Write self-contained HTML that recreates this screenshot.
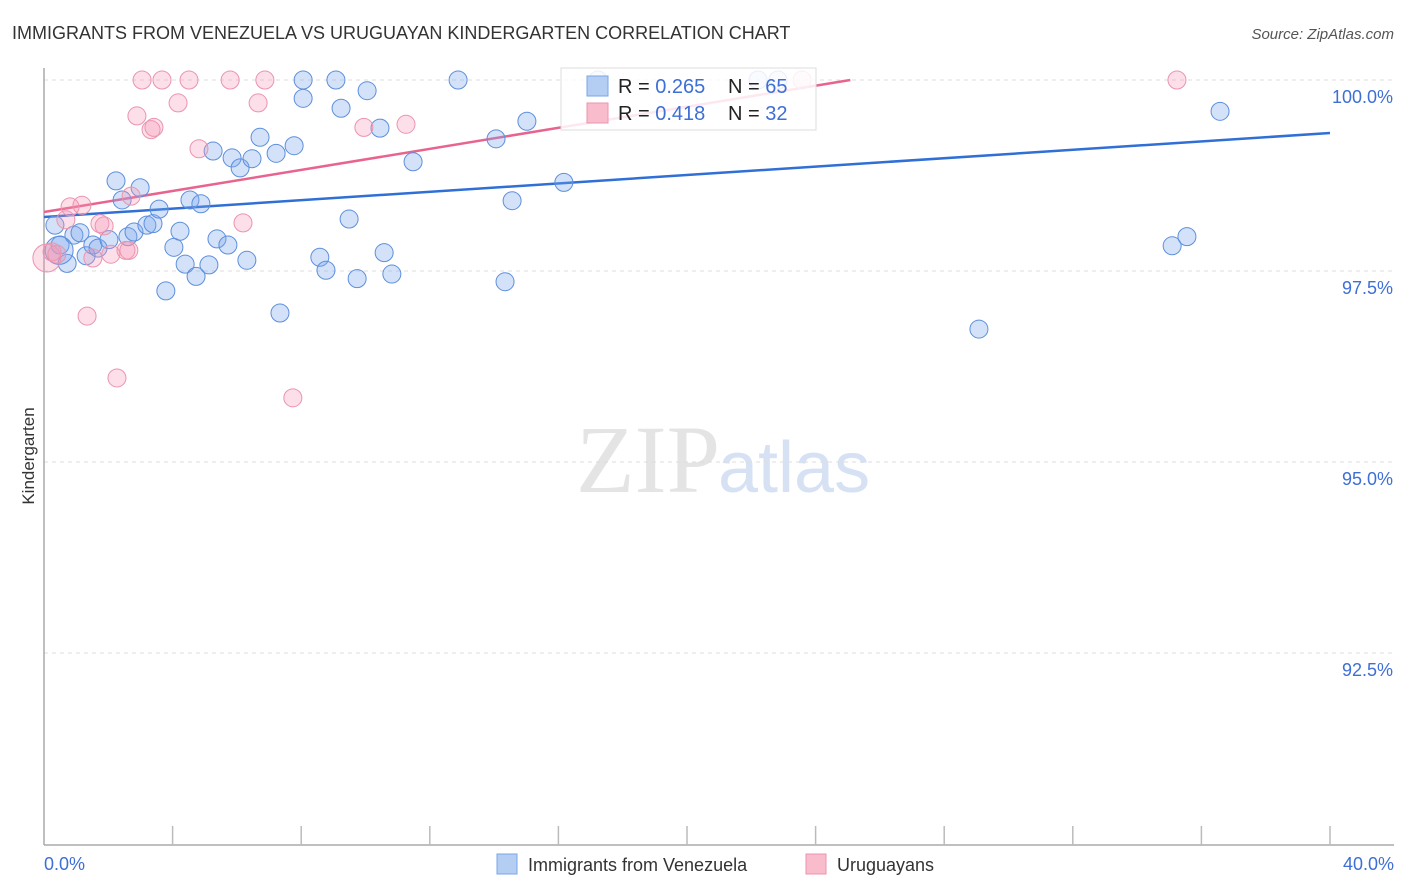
<!DOCTYPE html>
<html><head><meta charset="utf-8"><style>
body{margin:0;background:#fff;font-family:"Liberation Sans",sans-serif;}
#wrap{position:relative;width:1406px;height:892px;overflow:hidden;}
</style></head><body>
<div id="wrap">
<svg id="svg" width="1406" height="892" xmlns="http://www.w3.org/2000/svg">
<text x="12" y="39" font-size="18" fill="#333">IMMIGRANTS FROM VENEZUELA VS URUGUAYAN KINDERGARTEN CORRELATION CHART</text>
<text x="1394" y="39" font-size="15" fill="#555" font-style="italic" text-anchor="end">Source: ZipAtlas.com</text>
<text x="720" y="492" font-size="96" fill="#e4e4e4" text-anchor="end" font-family="Liberation Serif, serif">ZIP</text>
<text x="718" y="492" font-size="72" fill="#d6e2f3">atlas</text>
<text x="34" y="456" font-size="17" fill="#333" text-anchor="middle" transform="rotate(-90 34 456)">Kindergarten</text>
<g id="grid"></g><g id="axes"></g><g id="lines"></g><g id="pts"></g>
<g>
<rect x="561" y="68" width="255" height="62" fill="#fff" fill-opacity="0.85" stroke="#ddd"/>
<rect x="587" y="76" width="21" height="20" fill="#b3cdf3" stroke="#7aa6e6"/>
<text x="618" y="93" font-size="20" fill="#222">R = <tspan fill="#3d6fd6">0.265</tspan></text>
<text x="728" y="93" font-size="20" fill="#222">N = <tspan fill="#3d6fd6">65</tspan></text>
<rect x="587" y="103" width="21" height="20" fill="#f8bccd" stroke="#ee93ae"/>
<text x="618" y="120" font-size="20" fill="#222">R = <tspan fill="#3d6fd6"> 0.418</tspan></text>
<text x="728" y="120" font-size="20" fill="#222">N = <tspan fill="#3d6fd6">32</tspan></text>
</g>
<g>
<rect x="497" y="854" width="20" height="20" fill="#b3cdf3" stroke="#7aa6e6"/>
<text x="528" y="871" font-size="18" fill="#333">Immigrants from Venezuela</text>
<rect x="806" y="854" width="20" height="20" fill="#f8bccd" stroke="#ee93ae"/>
<text x="837" y="871" font-size="18" fill="#333">Uruguayans</text>
</g>
</svg>
</div>
<script>
const blueX=[0.34,0.50,0.72,0.93,1.12,1.31,1.52,1.68,2.02,2.24,2.43,2.61,2.80,2.99,3.20,3.39,3.58,3.79,4.04,4.23,4.39,4.54,4.73,4.88,5.13,5.26,5.38,5.72,5.85,6.10,6.31,6.47,6.72,7.22,7.34,7.78,8.06,8.06,8.58,8.77,9.08,9.24,9.49,9.74,10.05,10.45,10.58,10.82,11.48,12.88,14.06,14.34,14.56,15.02,16.17,17.23,22.21,22.83,29.08,35.09,35.55,36.58,0.47];
const blueY=[98.10,97.84,97.60,97.97,98.00,97.70,97.84,97.80,97.91,98.68,98.43,97.95,98.01,98.59,98.10,98.12,98.31,97.24,97.81,98.02,97.59,98.43,97.43,98.38,97.58,99.07,97.92,97.84,98.98,98.85,97.64,98.97,99.25,99.04,96.95,99.14,100.0,99.76,97.68,97.51,100.0,99.63,98.18,97.40,99.86,99.37,97.74,97.46,98.93,100.0,99.23,97.36,98.42,99.46,98.66,100.0,100.0,100.0,96.74,97.83,97.95,99.59,97.77];
const pinkX=[0.09,0.25,0.40,0.68,0.81,1.18,1.52,1.34,1.74,1.87,2.08,2.27,2.55,2.71,2.89,3.05,3.33,3.42,3.67,4.17,4.51,4.82,5.79,6.19,6.66,6.87,7.74,9.95,11.26,23.58,35.24,2.64];
const pinkY=[97.67,97.75,97.72,98.17,98.34,98.36,97.67,96.91,98.12,98.09,97.72,96.10,97.77,98.48,99.53,100.0,99.35,99.38,100.0,99.70,100.0,99.10,100.0,98.13,99.70,100.0,95.84,99.38,99.42,100.0,100.0,97.77];
const blueTrend=[98.207,99.306];
const pinkTrend=[98.272,0.0689];
const yTicks=[100,97.5,95,92.5];
const yTickLabels=["100.0%","97.5%","95.0%","92.5%"];
const xTickLabels=["0.0%","40.0%"];
const NS="http://www.w3.org/2000/svg";
const sx=v=>44+v*32.15, sy=v=>80+(100-v)*76.4;
function mk(tag,attrs,parent){const e=document.createElementNS(NS,tag);for(const k in attrs)e.setAttribute(k,attrs[k]);document.getElementById(parent).appendChild(e);return e;}
yTicks.forEach((t,i)=>{
 const l=mk('line',{x1:44,x2:1394,y1:sy(t),y2:sy(t),stroke:'#ddd','stroke-dasharray':'4,4'},'grid');
 
 
 const tx=mk('text',{x:1393,y:sy(t)+23,'font-size':18,fill:'#3d6fd6','text-anchor':'end'},'grid');
 tx.textContent=yTickLabels[i];
 
 
});
const ya=mk('line',{x1:44,x2:44,y1:68,y2:845,stroke:'#aaa','stroke-width':1.5},'axes');


const xa=mk('line',{x1:44,x2:1394,y1:845,y2:845,stroke:'#aaa','stroke-width':1.5},'axes');


for(let v=4;v<=40;v+=4){
 const t=mk('line',{x1:sx(v),x2:sx(v),y1:826,y2:845,stroke:'#bbb','stroke-width':1.5},'axes');
 
 
}
const xl0=mk('text',{x:44,y:870,'font-size':18,fill:'#3d6fd6'},'axes');
xl0.textContent=xTickLabels[0];


const xl1=mk('text',{x:1394,y:870,'font-size':18,fill:'#3d6fd6','text-anchor':'end'},'axes');
xl1.textContent=xTickLabels[1];


blueX.forEach((x,i)=>{
 const c=mk('circle',{cx:sx(x),cy:sy(blueY[i]),r:i===blueX.length-1?14:9,fill:'rgba(120,165,235,0.32)',stroke:'#5d8fdc','stroke-width':1},'pts');
 
 
});
pinkX.forEach((x,i)=>{
 const c=mk('circle',{cx:sx(x),cy:sy(pinkY[i]),r:i===0?14:9,fill:'rgba(245,150,180,0.3)',stroke:'#eb94ae','stroke-width':1},'pts');
 
 
});
const bl=mk('line',{x1:sx(0),y1:sy(blueTrend[0]),x2:sx(40),y2:sy(blueTrend[1]),stroke:'#2f6fd6','stroke-width':2.5},'lines');


const pEnd=(100-pinkTrend[0])/pinkTrend[1];
const pl=mk('line',{x1:sx(0),y1:sy(pinkTrend[0]),x2:sx(pEnd),y2:sy(100),stroke:'#e8648e','stroke-width':2.5},'lines');


</script>
</body></html>
